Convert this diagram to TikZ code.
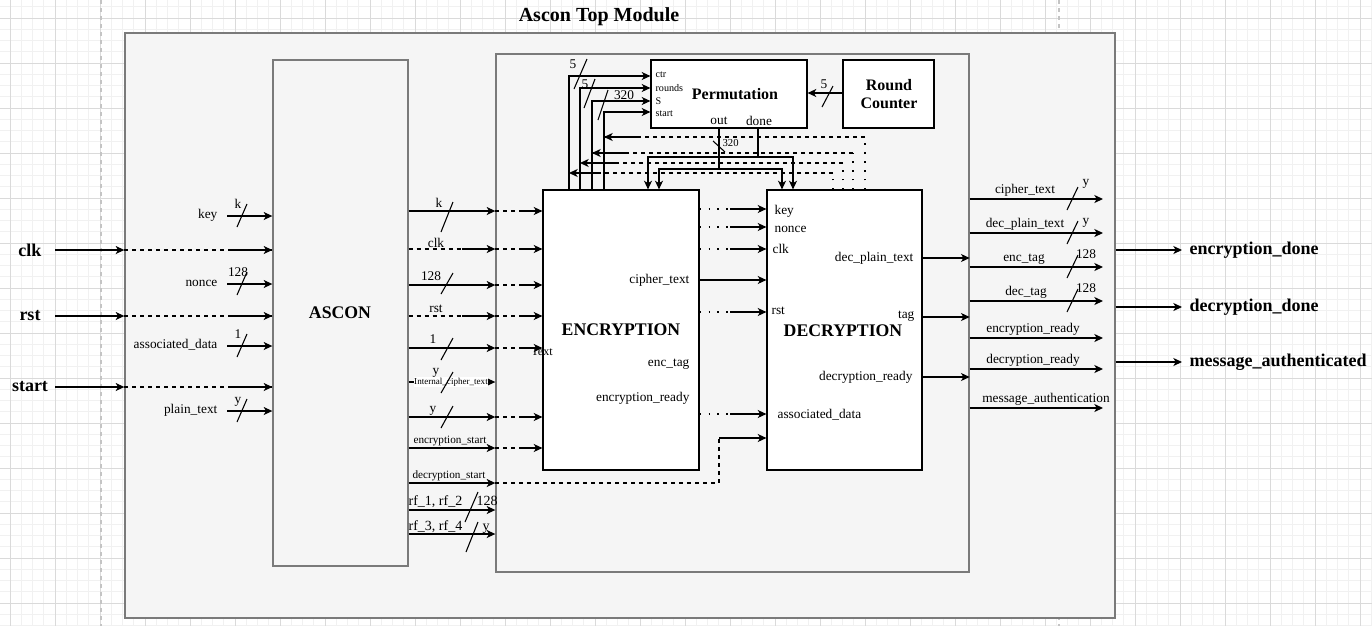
\documentclass[tikz,border=0pt]{standalone}
\usepackage{fontspec}
\setmainfont{Liberation Serif}
\usetikzlibrary{arrows.meta, positioning, fit, calc}
\definecolor{acgrid}{HTML}{DADADA}
\definecolor{acgridlt}{HTML}{F1F1F1}
\definecolor{acfill}{HTML}{F5F5F5}
\definecolor{acedge}{HTML}{7A7A7A}
\definecolor{acpage}{HTML}{C4C4C4}

\begin{document}
\begin{tikzpicture}[
  x=0.75pt, y=-0.75pt,
  every node/.style={font=\fontsize{10}{12}\selectfont, inner sep=1pt},
  outerbox/.style={draw=acedge, fill=acfill, line width=1pt, inner sep=0pt},
  block/.style={draw=black, fill=white, line width=0.9pt, inner sep=0pt},
  blocklbl/.style={font=\fontsize{13.3}{15}\selectfont\bfseries},
  arr/.style={-{Stealth[length=6.5pt, width=6pt, inset=1.8pt]}, line width=0.9pt},
  dsh/.style={line width=0.9pt, dash pattern=on 3pt off 3pt},
  dotline/.style={line width=0.9pt, dash pattern=on 1.2pt off 5.5pt},
  slash/.style={line width=0.8pt},
  lbl/.style={font=\fontsize{10}{12}\selectfont},
  plbl/.style={font=\fontsize{7.6}{9}\selectfont},
  sig/.style={font=\fontsize{13.5}{16}\selectfont\bfseries},
]
\useasboundingbox (0,0) rectangle (1372,626);
\fill[white] (0,0) rectangle (1372,626);

% Canvas grid
\foreach \k in {0,...,121} \draw[acgridlt, line width=0.75pt] ({10+11.25*\k},0) -- ({10+11.25*\k},626);
\foreach \k in {-1,...,54} \draw[acgridlt, line width=0.75pt] (0,{18+11.25*\k}) -- (1372,{18+11.25*\k});
\foreach \k in {0,...,30} \draw[acgrid, line width=0.75pt] ({10+45*\k},0) -- ({10+45*\k},626);
\foreach \k in {0,...,13} \draw[acgrid, line width=0.75pt] (0,{18+45*\k}) -- (1372,{18+45*\k});
\draw[acpage, line width=0.9pt, dash pattern=on 3pt off 3pt] (101,0) -- (101,626);
\draw[acpage, line width=0.9pt, dash pattern=on 3pt off 3pt] (1059,0) -- (1059,626);

% Boxes
\node[outerbox, fit={(125,33) (1115,618)}] (top) {};
\node[font=\fontsize{15}{18}\selectfont\bfseries] (title) at (599,17) {Ascon Top Module};
\node[outerbox, fit={(496,54) (969,572)}] (core) {};
\node[outerbox, fit={(273,60) (408,566)}] (ascon) {};
\node[blocklbl] (ascon-lbl) at (340,313) {ASCON};
\node[block, fit={(543,190) (699,470)}] (enc) {};
\node[blocklbl] (enc-lbl) at (621,330) {ENCRYPTION};
\node[block, fit={(767,190) (922,470)}] (dec) {};
\node[blocklbl] (dec-lbl) at (843,331) {DECRYPTION};
\node[block, fit={(651,60) (807,128)}] (perm) {};
\node[font=\fontsize{12}{14}\selectfont\bfseries] (perm-lbl) at (735,94) {Permutation};
\node[block, fit={(843,60) (934,128)}] (rcnt) {};
\node[align=center, font=\fontsize{12}{13.5}\selectfont\bfseries] (rcnt-lbl) at (889,94) {Round\\Counter};

% Top-level inputs
\foreach \y/\sname in {250/clk, 316/rst, 387/start} {
  \node[sig] (in-\sname) at (30,\y) {\sname};
  \coordinate (src-\sname) at (55,\y);
  \draw[arr] (src-\sname) -- (top.west |- src-\sname);
  \draw[dsh] (top.west |- src-\sname) -- (ascon.west |- src-\sname);
  \draw[arr] (228,\y) -- (ascon.west |- src-\sname);
}
\foreach \y/\sname/\w [count=\i] in {216/key/k, 284/nonce/128, 346/associated\_data/1, 411/plain\_text/y} {
  \node[lbl, anchor=east] (ain\i) at (219,\y-1) {\sname};
  \draw[arr] (227,\y) -- (ascon.west |- 0,\y);
  \draw[slash] (237,\y+11) -- (247,\y-12);
  \node[lbl, anchor=base] (aw\i) at (238,\y-8) {\w};
}

% ASCON outputs
\foreach \y in {211, 285, 348, 382, 417, 448, 483, 510, 534}
  \draw[arr] (ascon.east |- 0,\y) -- (core.west |- 0,\y);
\foreach \y in {249, 316} {
  \draw[dsh] (ascon.east |- 0,\y) -- (core.west |- 0,\y);
  \draw[arr] (462,\y) -- (core.west |- 0,\y);
}
\node[fill=white, inner sep=0.5pt, font=\fontsize{6.8}{8}\selectfont] (ict) at (451,382) {Internal\_cipher\_text};
\foreach \y/\w/\lx/\dn/\up/\b [count=\i] in {211/k/439/21/9/4, 285/128/431/9/12/5, 348/1/433/12/10/5, 382/y/436/11/10/8, 417/y/433/11/11/5} {
  \draw[slash] (441,\y+\dn) -- (453,\y-\up);
  \node[lbl, anchor=base] (bw\i) at (\lx,\y-\b) {\w};
}
\node[lbl, anchor=base] (bclk) at (436,247) {clk};
\node[lbl, anchor=base] (brst) at (436,312) {rst};
\node[font=\fontsize{8.4}{10}\selectfont, anchor=base] (bes) at (450,443) {encryption\_start};
\node[font=\fontsize{8.4}{10}\selectfont, anchor=base] (bds) at (449,478) {decryption\_start};
\node[font=\fontsize{10.5}{12}\selectfont, anchor=base west] (rf12) at (407,505) {rf\_1, rf\_2};
\node[font=\fontsize{10.5}{12}\selectfont, anchor=base west] (rf34) at (407,530) {rf\_3, rf\_4};
\draw[slash] (465,522) -- (478,492);
\draw[slash] (466,552) -- (478,522);
\node[font=\fontsize{10.5}{12}\selectfont, anchor=base] (rfw1) at (487,505) {128};
\node[font=\fontsize{10.5}{12}\selectfont, anchor=base] (rfw2) at (486,530) {y};

% Into ENCRYPTION
\foreach \y in {211, 249, 285, 316, 348, 417, 448} {
  \draw[dsh] (core.west |- 0,\y) -- (enc.west |- 0,\y);
  \draw[arr] (522,\y) -- (enc.west |- 0,\y);
}
\node[font=\fontsize{9}{11}\selectfont] (txt) at (542,352) {Text};
\draw[dsh] (core.west |- 0,483) -| (719,438);
\draw[arr] (719,438) -- (dec.west |- 0,438);

% ENCRYPTION -> DECRYPTION
\foreach \y in {209, 227, 249, 312, 414} {
  \draw[dotline] (enc.east |- 0,\y) -- (dec.west |- 0,\y);
  \draw[arr] (730,\y) -- (dec.west |- 0,\y);
}
\draw[arr] (enc.east |- 0,280) -- (dec.west |- 0,280);
\node[lbl, anchor=east] (e1) at (691,280) {cipher\_text};
\node[lbl, anchor=east] (e2) at (691,364) {enc\_tag};
\node[lbl, anchor=east] (e3) at (691,398) {encryption\_ready};
\node[lbl, anchor=west] (d1) at (773,211) {key};
\node[lbl, anchor=west] (d2) at (773,229) {nonce};
\node[lbl, anchor=west] (d3) at (771,249) {clk};
\node[lbl, anchor=west] (d4) at (770,311) {rst};
\node[lbl, anchor=west] (d5) at (776,415) {associated\_data};
\node[lbl, anchor=east] (d6) at (915,258) {dec\_plain\_text};
\node[lbl, anchor=east] (d7) at (916,316) {tag};
\node[lbl, anchor=east] (d8) at (914,377) {decryption\_ready};
\foreach \y in {258, 317, 377}
  \draw[arr] (dec.east |- 0,\y) -- (core.east |- 0,\y);

% Permutation wiring
\foreach \x/\y in {569/76, 580/88, 592/101, 604/112}
  \draw[arr] (enc.north -| \x,0) |- (perm.west |- 0,\y);
\foreach \y/\pname [count=\i] in {75/ctr, 88/rounds, 101/S, 114/start}
  \node[plbl, anchor=west] (p\i) at (654,\y) {\pname};
\draw[slash] (574,89) -- (587,59);
\draw[slash] (584,108) -- (595,79);
\draw[slash] (598,120) -- (608,90);
\node[lbl] (pw1) at (573,64) {5};
\node[lbl] (pw2) at (585,84) {5};
\node[lbl] (pw3) at (624,95) {320};
\draw[arr] (rcnt.west |- 0,93) -- (perm.east |- 0,93);
\draw[slash] (822,107) -- (833,86);
\node[lbl] (rw) at (824,84) {5};
\node[lbl] (pout) at (719,121) {out};
\node[lbl] (pdone) at (759,121) {done};
\draw[arr] (perm.south -| 719,0) |- (659,169) -- (enc.north -| 659,0);
\draw[arr] (719,169) -| (dec.north -| 782,0);
\draw[arr] (perm.south -| 758,0) |- (648,157) -- (enc.north -| 648,0);
\draw[arr] (758,157) -| (dec.north -| 793,0);
\draw[slash] (713,141) -- (725,152);
\node[font=\fontsize{8}{10}\selectfont, anchor=west] (ow) at (721,143) {320};

% Feedback from DECRYPTION
\foreach \x/\y/\tx/\sx in {865/137/604/637, 853/153/592/625, 843/163/580/615, 833/173/569/600} {
  \draw[dotline] (dec.north -| \x,0) -- (\x,\y);
  \draw[dsh] (\x,\y) -- (\tx,\y);
  \draw[arr] (\sx,\y) -- (\tx,\y);
}

% Core outputs
\foreach \y/\sname/\lx in {199/cipher\_text/1025, 233/dec\_plain\_text/1025, 267/enc\_tag/1024, 301/dec\_tag/1026, 338/encryption\_ready/1033, 369/decryption\_ready/1033, 408/message\_authentication/1046} {
  \coordinate (out-\y) at (1103,\y);
  \draw[arr] (core.east |- 0,\y) -- (out-\y);
  \node[lbl, anchor=base] (ol-\y) at (\lx,\y-6) {\sname};
}
\foreach \y/\w/\b in {199/y/14, 233/y/9, 267/128/9, 301/128/9} {
  \draw[slash] (1067,\y+11) -- (1078,\y-12);
  \node[lbl, anchor=base] (ow-\y) at (1086,\y-\b) {\w};
}

% Top-level outputs
\foreach \y/\sname in {250/encryption\_done, 307/decryption\_done, 362/message\_authenticated} {
  \coordinate (dst-\y) at (1182,\y);
  \draw[arr] (top.east |- 0,\y) -- (dst-\y);
  \node[sig, anchor=west] (res-\y) at (1188,\y) {\sname};
}

\end{tikzpicture}
\end{document}
